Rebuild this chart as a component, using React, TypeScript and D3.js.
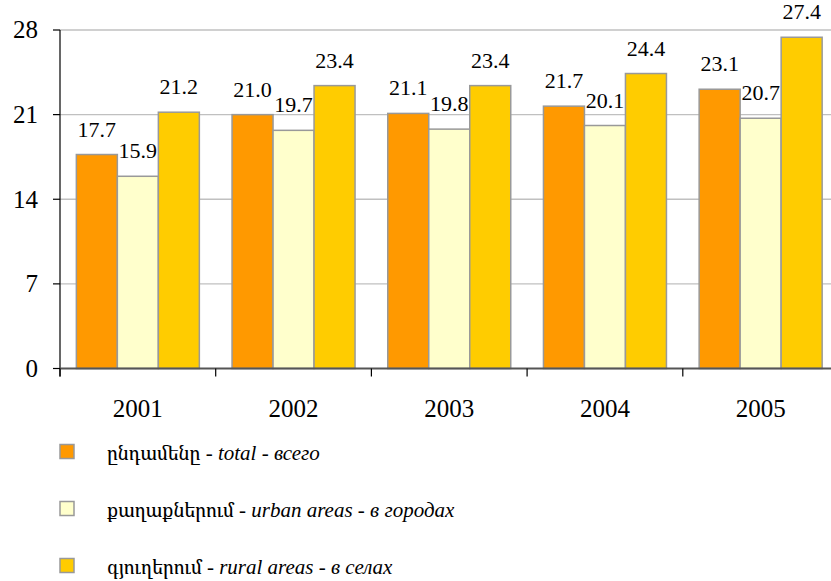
import * as d3 from "d3";

const years = ["2001", "2002", "2003", "2004", "2005"];
const totalValues = [17.7, 21.0, 21.1, 21.7, 23.1];
const urbanValues = [15.9, 19.7, 19.8, 20.1, 20.7];
const ruralValues = [21.2, 23.4, 23.4, 24.4, 27.4];
const yTicks = [0, 7, 14, 21, 28];

const seriesNames = [
  { arm: "ընդամենը", en: "total", ru: "всего" },
  { arm: "քաղաքներում", en: "urban areas", ru: "в городах" },
  { arm: "գյուղերում", en: "rural areas", ru: "в селах" },
];
const seriesColors = ["#FF9900", "#FFFFCC", "#FFCC00"];

const W = 831;
const H = 581;
const FONT = '"Liberation Serif", "Times New Roman", Tinos, serif';
const ARM_FONT = '"Noto Serif Armenian", "DejaVu Serif", serif';

const left = 60;
const right = 838.5;
const top = 30;
const bottom = 368.5;

export default function App() {
  const series = [totalValues, urbanValues, ruralValues];

  const x = d3.scaleBand<string>().domain(years).range([left, right]).paddingInner(0.21).paddingOuter(0.105);
  const xs = d3.scaleBand<number>().domain([0, 1, 2]).range([0, x.bandwidth()]);
  const y = d3.scaleLinear().domain([0, 28]).range([bottom, top]);
  const legendY = d3.scaleLinear().domain([0, 2]).range([451.5, 565.5]);
  const boundaries = years.map((yr) => x(yr)! - x.step() * 0.105);

  const txt = (size: number) => ({ fontFamily: FONT, fontSize: `${size}px` });

  return (
    <div style={{ position: "fixed", left: 0, top: 0, fontFamily: FONT }}>
      <svg width={W} height={H} style={{ display: "block", background: "#fff", fontFamily: FONT }}>
        {/* gridlines */}
        {yTicks
          .filter((t) => t > 0)
          .map((t) => (
            <line key={t} x1={left} x2={W} y1={y(t)} y2={y(t)} stroke="#c0c0c0" strokeWidth={1.3} />
          ))}

        {/* bars */}
        {years.map((yr, i) => (
          <g key={yr} transform={`translate(${x(yr)},0)`}>
            {series.map((vals, s) => (
              <rect
                key={s}
                x={xs(s)}
                y={y(vals[i])}
                width={xs.bandwidth()}
                height={y(0) - y(vals[i])}
                fill={seriesColors[s]}
                stroke="#999999"
                strokeWidth={1.5}
              />
            ))}
            {series.map((vals, s) => (
              <text
                key={s}
                x={xs(s)! + xs.bandwidth() / 2}
                y={y(vals[i]) - 18}
                textAnchor="middle"
                style={txt(22)}
              >
                {vals[i].toFixed(1)}
              </text>
            ))}
          </g>
        ))}

        {/* y axis */}
        <line x1={left} x2={left} y1={top} y2={bottom + 8} stroke="#000" strokeWidth={1.2} />
        {yTicks.map((t) => (
          <g key={t} transform={`translate(0,${y(t)})`}>
            <line x1={left - 7} x2={left} stroke="#000" strokeWidth={1.2} />
            <text x={left - 22} dy="0.33em" textAnchor="end" style={txt(25)}>
              {t}
            </text>
          </g>
        ))}

        {/* x axis */}
        <line x1={left} x2={W} y1={bottom} y2={bottom} stroke="#555" strokeWidth={2} />
        {boundaries.map((b, i) => (
          <line key={i} x1={b} x2={b} y1={bottom} y2={bottom + 8} stroke="#000" strokeWidth={1.2} />
        ))}
        {years.map((yr) => (
          <text key={yr} x={x(yr)! + x.bandwidth() / 2} y={bottom + 48} textAnchor="middle" style={txt(25)}>
            {yr}
          </text>
        ))}

        {/* legend */}
        {seriesNames.map((n, i) => {
          const cy = legendY(i);
          return (
            <g key={i}>
              <rect x={60} y={cy - 7} width={14} height={14} fill={seriesColors[i]} stroke="#999999" strokeWidth={1.5} />
              <text x={107} y={cy + 8} style={txt(21)}>
                <tspan style={{ fontFamily: ARM_FONT, fontSize: "19px" }}>{n.arm}</tspan>
                <tspan>{" - "}</tspan>
                <tspan style={{ fontStyle: "italic" }}>{n.en}</tspan>
                <tspan>{" - "}</tspan>
                <tspan style={{ fontStyle: "italic" }}>{n.ru}</tspan>
              </text>
            </g>
          );
        })}
      </svg>
    </div>
  );
}
